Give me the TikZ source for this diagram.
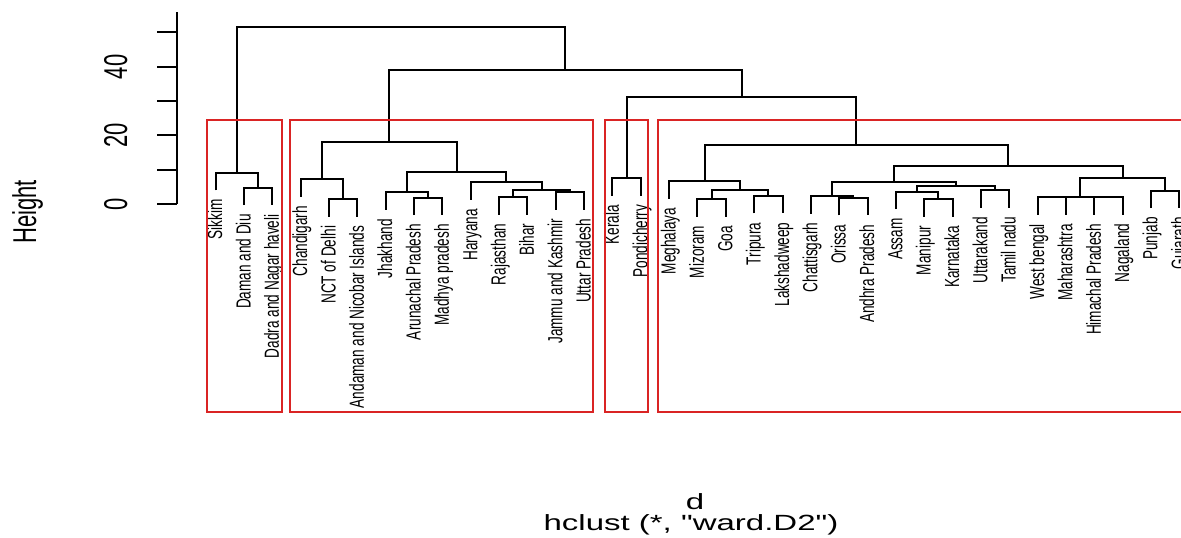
\documentclass[tikz,border=0pt]{standalone}
\usepackage{fontspec}
\setmainfont{Liberation Sans}[Ligatures=TeXOff]
\usepackage{graphicx}
\definecolor{corte}{RGB}{218,36,36}
\tikzset{
  rama/.style={line width=2pt},
  caja/.style={draw=corte, line width=2pt},
  hoja/.style={rotate=90, inner sep=0pt, anchor=base east, font=\fontsize{13.6}{14}\selectfont},
  eje/.style={rotate=90, inner sep=0pt, anchor=base, font=\fontsize{22}{24}\selectfont},
  titulo/.style={inner sep=0pt, anchor=base, font=\fontsize{22}{24}\selectfont}
}
\newcommand{\alto}[1]{\scalebox{1}[1.5]{#1}}
\newcommand{\ancho}[1]{\scalebox{1.5}[1]{#1}}
\begin{document}
\begin{tikzpicture}[x=1pt, y=1pt]
    \useasboundingbox (0,0) rectangle (1181,538);
    \begin{scope}[y=3.43pt, yshift=334pt]
        % Hojas y etiquetas
        \foreach \i/\nm/\hp in {0/Sikkim/9.1, 1/Daman and Diu/4.75, 2/Dadra and Nagar haveli/4.75,
            3/Chandigarh/7.2, 4/NCT of Delhi/1.4, 5/Andaman and Nicobar Islands/1.4,
            6/Jhakhand/3.4, 7/Arunachal Pradesh/1.85, 8/Madhya pradesh/1.85, 9/Haryana/6.3,
            10/Rajasthan/2.0, 11/Bihar/2.0, 12/Jammu and Kashmir/3.4, 13/Uttar Pradesh/3.4,
            14/Kerala/7.5, 15/Pondicherry/7.5, 16/Meghalaya/6.7, 17/Mizoram/1.4, 18/Goa/1.4,
            19/Tripura/2.4, 20/Lakshadweep/2.4, 21/Chattisgarh/2.3, 22/Orissa/1.75,
            23/Andhra Pradesh/1.75, 24/Assam/3.6, 25/Manipur/1.4, 26/Karnataka/1.4,
            27/Uttarakand/4.0, 28/Tamil nadu/4.0, 29/West bengal/1.9, 30/Maharashtra/1.9,
            31/Himachal Pradesh/2.0, 32/Nagaland/2.0, 33/Punjab/3.9, 34/Gujarath/3.9}
        {
            \coordinate (l\i) at ({215.7+28.34*\i}, \hp-5.1);
            \node[hoja] (t\i) at ([xshift=6.5pt, yshift=-9pt]l\i) {\alto{\nm}};
        }

        % Uniones
        \coordinate (mDD) at (258.21, 4.75);
        \coordinate (mA) at (236.96, 9.1);
        \coordinate (mNA) at (343.23, 1.4);
        \coordinate (mCH) at (321.98, 7.2);
        \coordinate (mAM) at (428.25, 1.85);
        \coordinate (mJH) at (407.0, 3.4);
        \coordinate (mRB) at (513.27, 2.0);
        \coordinate (mJU) at (569.95, 3.4);
        \coordinate (mRJ) at (541.61, 4.0);
        \coordinate (mHY) at (506.19, 6.3);
        \coordinate (mBR) at (456.6, 9.4);
        \coordinate (mB) at (389.29, 18.2);
        \coordinate (mC) at (626.63, 7.5);
        \coordinate (mMG) at (711.65, 1.4);
        \coordinate (mTL) at (768.33, 2.4);
        \coordinate (mMT) at (739.99, 4.0);
        \coordinate (mME) at (704.57, 6.7);
        \coordinate (mOA) at (853.35, 1.75);
        \coordinate (mCO) at (832.1, 2.3);
        \coordinate (mMK) at (938.37, 1.4);
        \coordinate (mAS) at (917.12, 3.6);
        \coordinate (mUT) at (995.05, 4.0);
        \coordinate (mAU) at (956.09, 5.2);
        \coordinate (mCA) at (894.1, 6.5);
        \coordinate (mWM) at (1051.73, 1.9);
        \coordinate (mHN) at (1108.41, 2.0);
        \coordinate (mWH) at (1080.07, 2.15);
        \coordinate (mPG) at (1165.09, 3.9);
        \coordinate (mWP) at (1122.58, 7.5);
        \coordinate (mDR) at (1008.34, 11.2);
        \coordinate (mD) at (856.46, 17.2);
        \coordinate (mCD) at (741.55, 31.1);
        \coordinate (mBCD) at (565.42, 39.1);
        \coordinate (mR) at (401.19, 51.6);

        % Ramas
        \draw[rama] (l1) |- (mDD) -| (l2);
        \draw[rama] (l0) |- (mA) -| (mDD);
        \draw[rama] (l4) |- (mNA) -| (l5);
        \draw[rama] (l3) |- (mCH) -| (mNA);
        \draw[rama] (l7) |- (mAM) -| (l8);
        \draw[rama] (l6) |- (mJH) -| (mAM);
        \draw[rama] (l10) |- (mRB) -| (l11);
        \draw[rama] (l12) |- (mJU) -| (l13);
        \draw[rama] (mRB) |- (mRJ) -| (mJU);
        \draw[rama] (l9) |- (mHY) -| (mRJ);
        \draw[rama] (mJH) |- (mBR) -| (mHY);
        \draw[rama] (mCH) |- (mB) -| (mBR);
        \draw[rama] (l14) |- (mC) -| (l15);
        \draw[rama] (l17) |- (mMG) -| (l18);
        \draw[rama] (l19) |- (mTL) -| (l20);
        \draw[rama] (mMG) |- (mMT) -| (mTL);
        \draw[rama] (l16) |- (mME) -| (mMT);
        \draw[rama] (l22) |- (mOA) -| (l23);
        \draw[rama] (l21) |- (mCO) -| (mOA);
        \draw[rama] (l25) |- (mMK) -| (l26);
        \draw[rama] (l24) |- (mAS) -| (mMK);
        \draw[rama] (l27) |- (mUT) -| (l28);
        \draw[rama] (mAS) |- (mAU) -| (mUT);
        \draw[rama] (mCO) |- (mCA) -| (mAU);
        \draw[rama] (l29) |- (mWM) -| (l30);
        \draw[rama] (l31) |- (mHN) -| (l32);
        \draw[rama] (mWM) |- (mWH) -| (mHN);
        \draw[rama] (l33) |- (mPG) -| (l34);
        \draw[rama] (mWH) |- (mWP) -| (mPG);
        \draw[rama] (mCA) |- (mDR) -| (mWP);
        \draw[rama] (mME) |- (mD) -| (mDR);
        \draw[rama] (mC) |- (mCD) -| (mD);
        \draw[rama] (mB) |- (mBCD) -| (mCD);
        \draw[rama] (mA) |- (mR) -| (mBCD);

        % Grupos
        \draw[caja] (206.7,24.5) rectangle (281.7,-60.55);
        \draw[caja] (290,24.5) rectangle (592.7,-60.55);
        \draw[caja] (604.5,24.5) rectangle (647.7,-60.55);
        \draw[caja] (658.3,24.5) rectangle (1195,-60.55);

        % Eje
        \draw[rama] (176.7,0) -- (176.7,56.1);
        \foreach \t in {0,10,...,50}
            \draw[rama] (176.7,\t) -- (157,\t);
        \foreach \t in {0,20,40}
            \node[eje] (y\t) at (127,\t) {\alto{\t}};
    \end{scope}

    % Titulos
    \node[eje] (ylab) at (36,326) {\alto{Height}};
    \node[titulo] (dnom) at (695,28) {\ancho{d}};
    \node[titulo] (metodo) at (691,7) {\ancho{hclust (*, "ward.D2")}};
\end{tikzpicture}
\end{document}
